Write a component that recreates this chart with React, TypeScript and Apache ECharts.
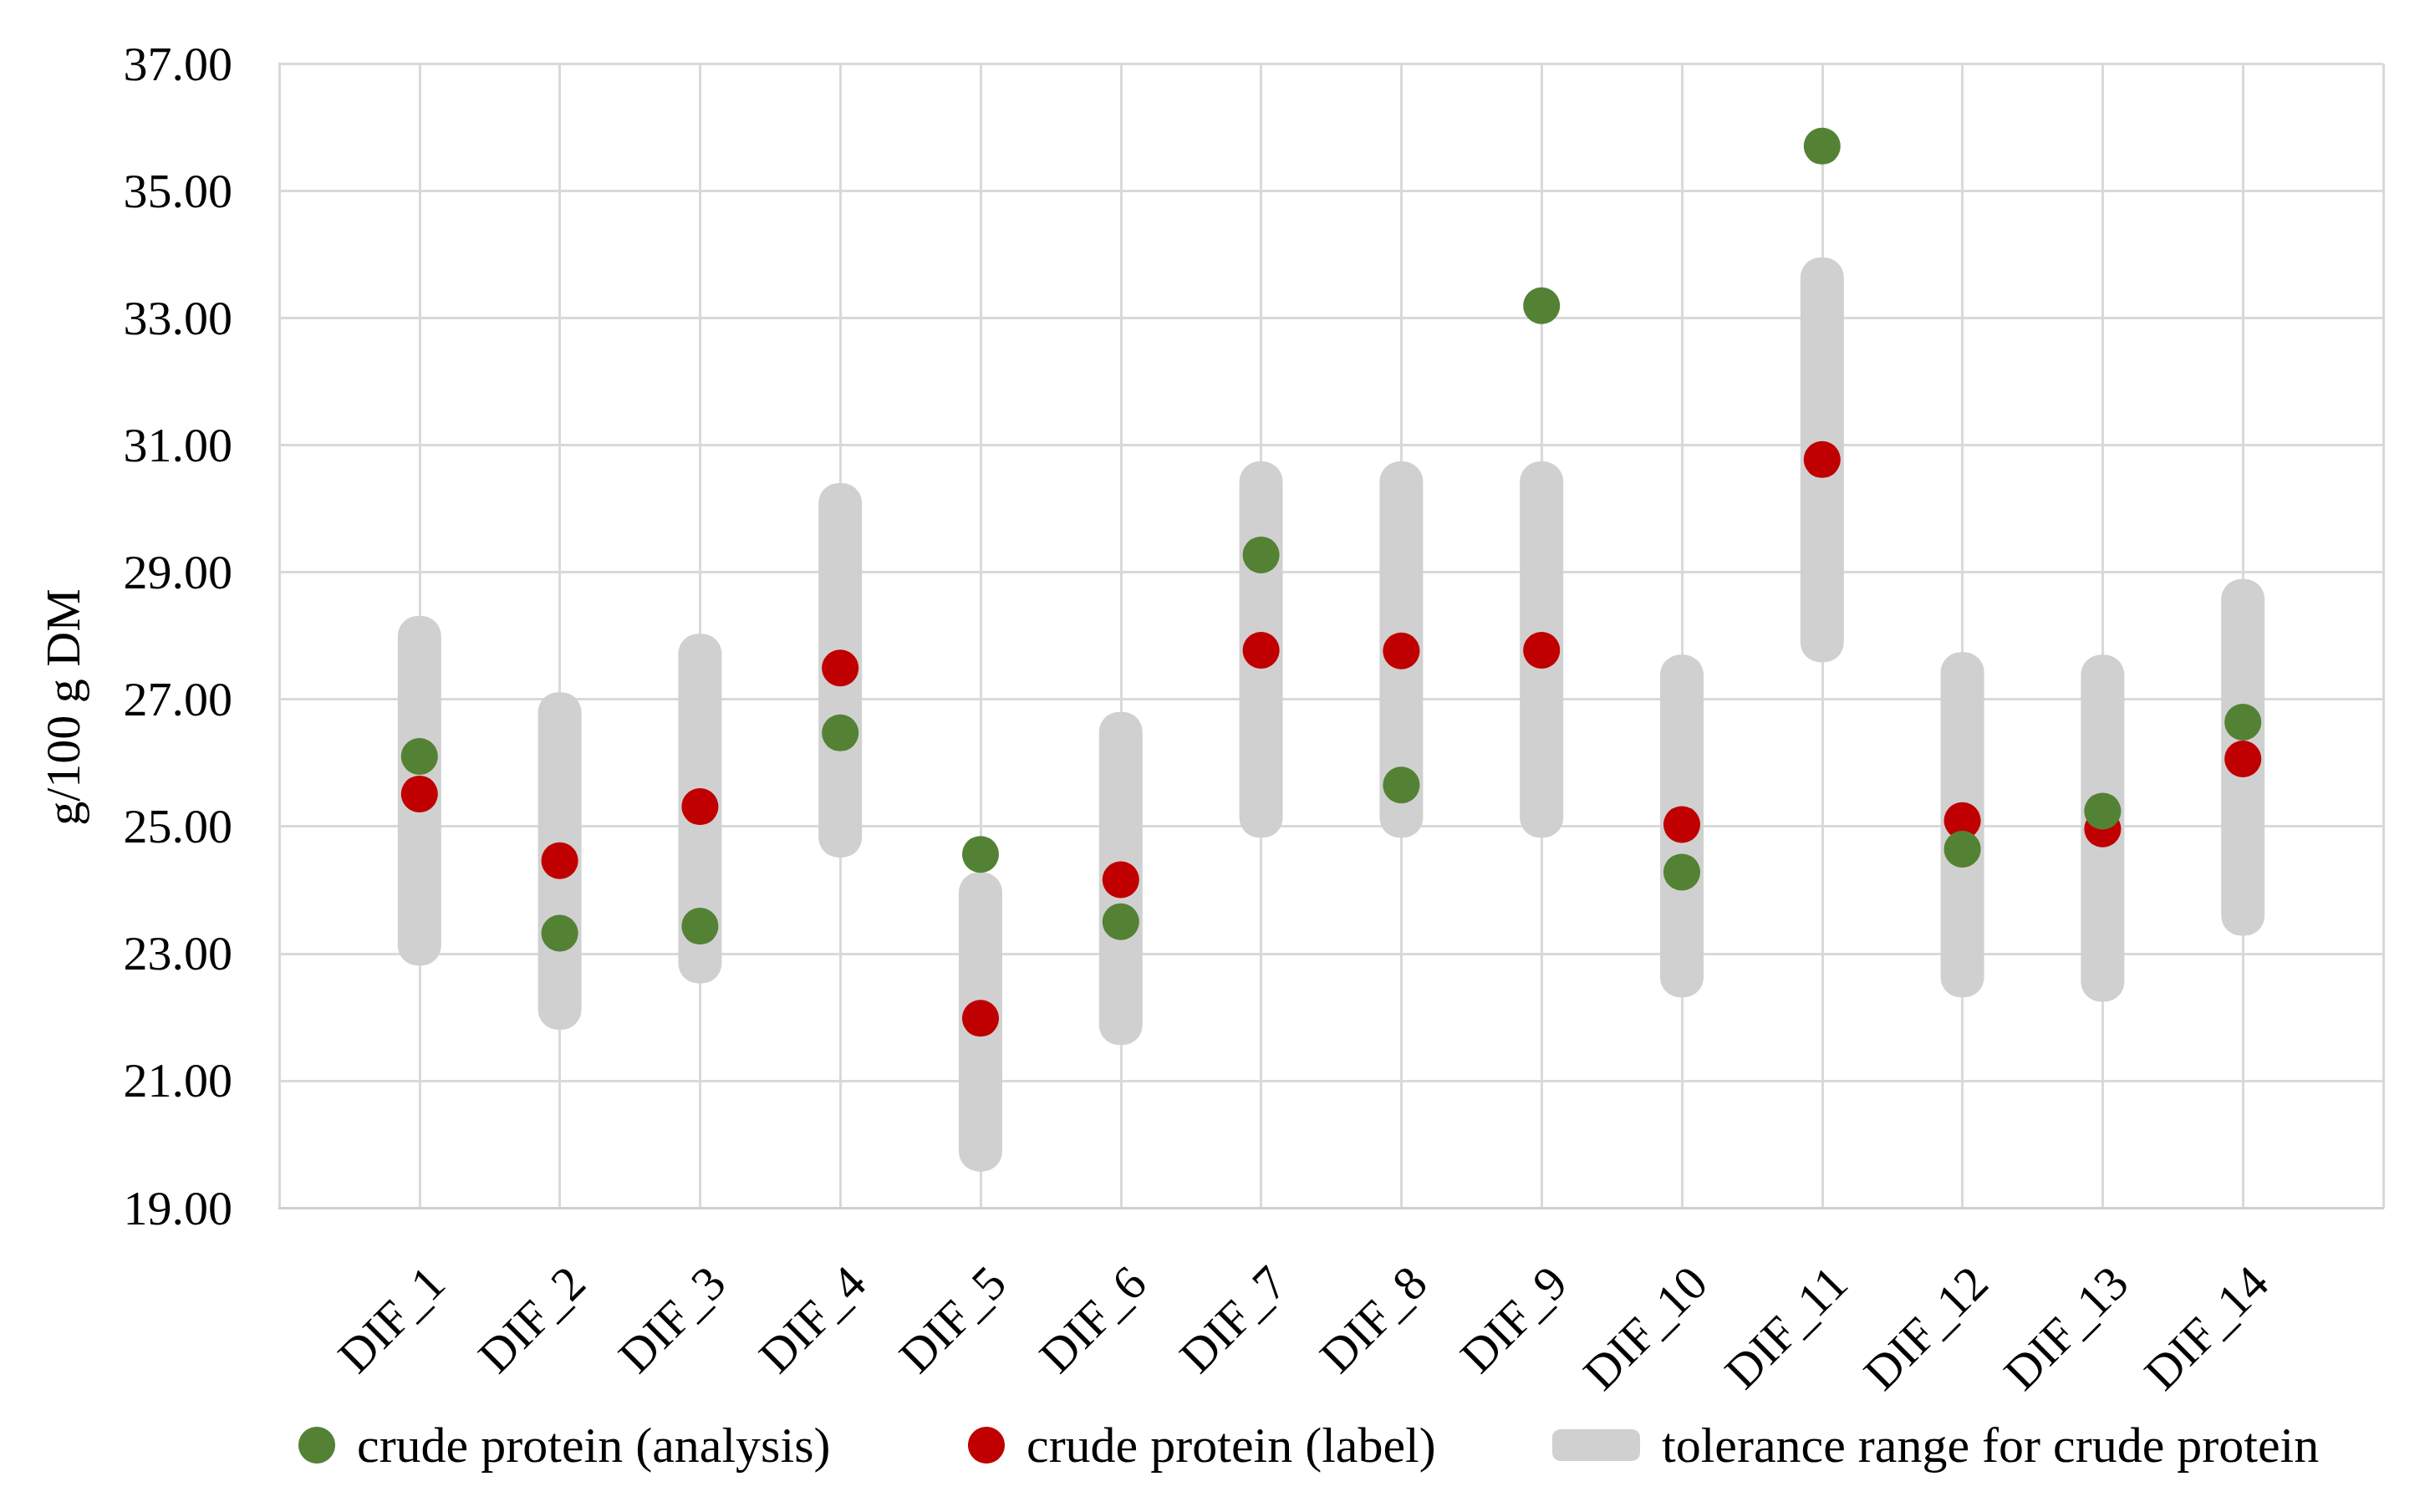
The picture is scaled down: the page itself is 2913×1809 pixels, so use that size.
import React, { useEffect, useRef } from "react";
import * as echarts from "echarts";

const categories = ["DIF_1", "DIF_2", "DIF_3", "DIF_4", "DIF_5", "DIF_6", "DIF_7", "DIF_8", "DIF_9", "DIF_10", "DIF_11", "DIF_12", "DIF_13", "DIF_14"];
const analysis = [26.10, 23.32, 23.43, 26.47, 24.56, 23.50, 29.27, 25.65, 33.19, 24.28, 35.70, 24.64, 25.24, 26.64];
const labelValues = [25.51, 24.46, 25.31, 27.49, 21.98, 24.16, 27.77, 27.76, 27.77, 25.03, 30.77, 25.09, 24.96, 26.06];
const tolLow = [22.81, 21.80, 22.53, 24.51, 19.57, 21.56, 24.82, 24.82, 24.82, 22.31, 27.58, 22.31, 22.24, 23.28];
const tolHigh = [28.31, 27.11, 28.03, 30.40, 24.28, 26.80, 30.74, 30.74, 30.74, 27.70, 33.95, 27.74, 27.70, 28.89];

const seriesNames = ["crude protein (analysis)", "crude protein (label)", "tolerance range for crude protein"];
const FONT = "Liberation Serif";
const GREEN = "#548235";
const RED = "#C00000";
const GREY = "#D0D0D0";
const GRIDC = "#D9D9D9";

export default function App() {
  const ref = useRef<HTMLDivElement>(null);
  useEffect(() => {
    document.body.style.margin = "0";
    if (!ref.current) return;
    const chart = echarts.init(ref.current, null, { renderer: "svg" });
    const pos = categories.map((_, i) => i + 1);
    const option: any = {
      animation: false,
      backgroundColor: "#ffffff",
      grid: [
        { left: 334, top: 76, width: 2517, height: 1369 },
        { left: 354, top: 76, width: 2517, height: 1369 },
      ],
      xAxis: [
        {
          type: "value", gridIndex: 0, min: 0, max: 15, interval: 1,
          axisLine: { show: true, lineStyle: { color: GREY, width: 3 } },
          axisTick: { show: false },
          axisLabel: { show: false },
          splitLine: { show: true, lineStyle: { color: GRIDC, width: 3 } },
        },
        {
          type: "value", gridIndex: 1, min: 0, max: 15, interval: 1,
          axisLine: { show: false }, axisTick: { show: false }, splitLine: { show: false },
          axisLabel: {
            rotate: 45, margin: 80, fontSize: 58, fontFamily: FONT, color: "#000",
            formatter: (v: number) => {
              const k = Math.round(v);
              return k >= 1 && k <= categories.length ? categories[k - 1] : "";
            },
          },
        },
      ],
      yAxis: [
        {
          type: "value", gridIndex: 0, min: 19, max: 37, interval: 2,
          axisLine: { show: true, lineStyle: { color: GRIDC, width: 3 } },
          axisTick: { show: false },
          axisLabel: {
            margin: 56, fontSize: 58, fontFamily: FONT, color: "#000", padding: [12, 0, 0, 0],
            formatter: (v: number) => v.toFixed(2),
          },
          splitLine: { show: true, lineStyle: { color: GRIDC, width: 3 } },
        },
        { type: "value", gridIndex: 1, min: 0, max: 1, show: false },
      ],
      legend: [
        {
          data: [seriesNames[0]], left: 357, top: 1699, padding: 0, icon: "circle",
          itemWidth: 44, itemHeight: 44,
          textStyle: { fontSize: 60, fontFamily: FONT, color: "#000", padding: [0, 0, 0, 21] },
        },
        {
          data: [seriesNames[1]], left: 1158, top: 1699, padding: 0, icon: "circle",
          itemWidth: 44, itemHeight: 44,
          textStyle: { fontSize: 60, fontFamily: FONT, color: "#000", padding: [0, 0, 0, 21] },
        },
        {
          data: [seriesNames[2]], left: 1857, top: 1699, padding: 0, icon: "roundRect",
          itemWidth: 105, itemHeight: 38,
          textStyle: { fontSize: 60, fontFamily: FONT, color: "#000", padding: [0, 0, 0, 21] },
        },
      ],
      graphic: [
        {
          type: "text", x: 75, y: 846, rotation: Math.PI / 2,
          style: { text: "g/100 g DM", fontSize: 58, fontFamily: FONT, fill: "#000", align: "center", verticalAlign: "middle" },
        },
      ],
      series: [
        {
          name: seriesNames[2],
          type: "custom",
          xAxisIndex: 0, yAxisIndex: 0,
          itemStyle: { color: GREY },
          encode: { x: 0, y: [1, 2] },
          data: pos.map((p, i) => [p, tolLow[i], tolHigh[i]]),
          renderItem: (params: any, api: any) => {
            const x = api.value(0);
            const top = api.coord([x, api.value(2)]);
            const bot = api.coord([x, api.value(1)]);
            const w = 52;
            return {
              type: "rect",
              shape: { x: top[0] - w / 2, y: top[1], width: w, height: bot[1] - top[1], r: 24 },
              style: { fill: GREY },
            };
          },
        },
        {
          name: seriesNames[1],
          type: "scatter",
          xAxisIndex: 0, yAxisIndex: 0,
          symbol: "circle", symbolSize: 44,
          itemStyle: { color: RED, opacity: 1 },
          data: pos.map((p, i) => [p, labelValues[i]]),
        },
        {
          name: seriesNames[0],
          type: "scatter",
          xAxisIndex: 0, yAxisIndex: 0,
          symbol: "circle", symbolSize: 44,
          itemStyle: { color: GREEN, opacity: 1 },
          data: pos.map((p, i) => [p, analysis[i]]),
        },
      ],
    };
    chart.setOption(option);
    return () => chart.dispose();
  }, []);
  return <div ref={ref} style={{ width: "2913px", height: "1809px" }} />;
}
